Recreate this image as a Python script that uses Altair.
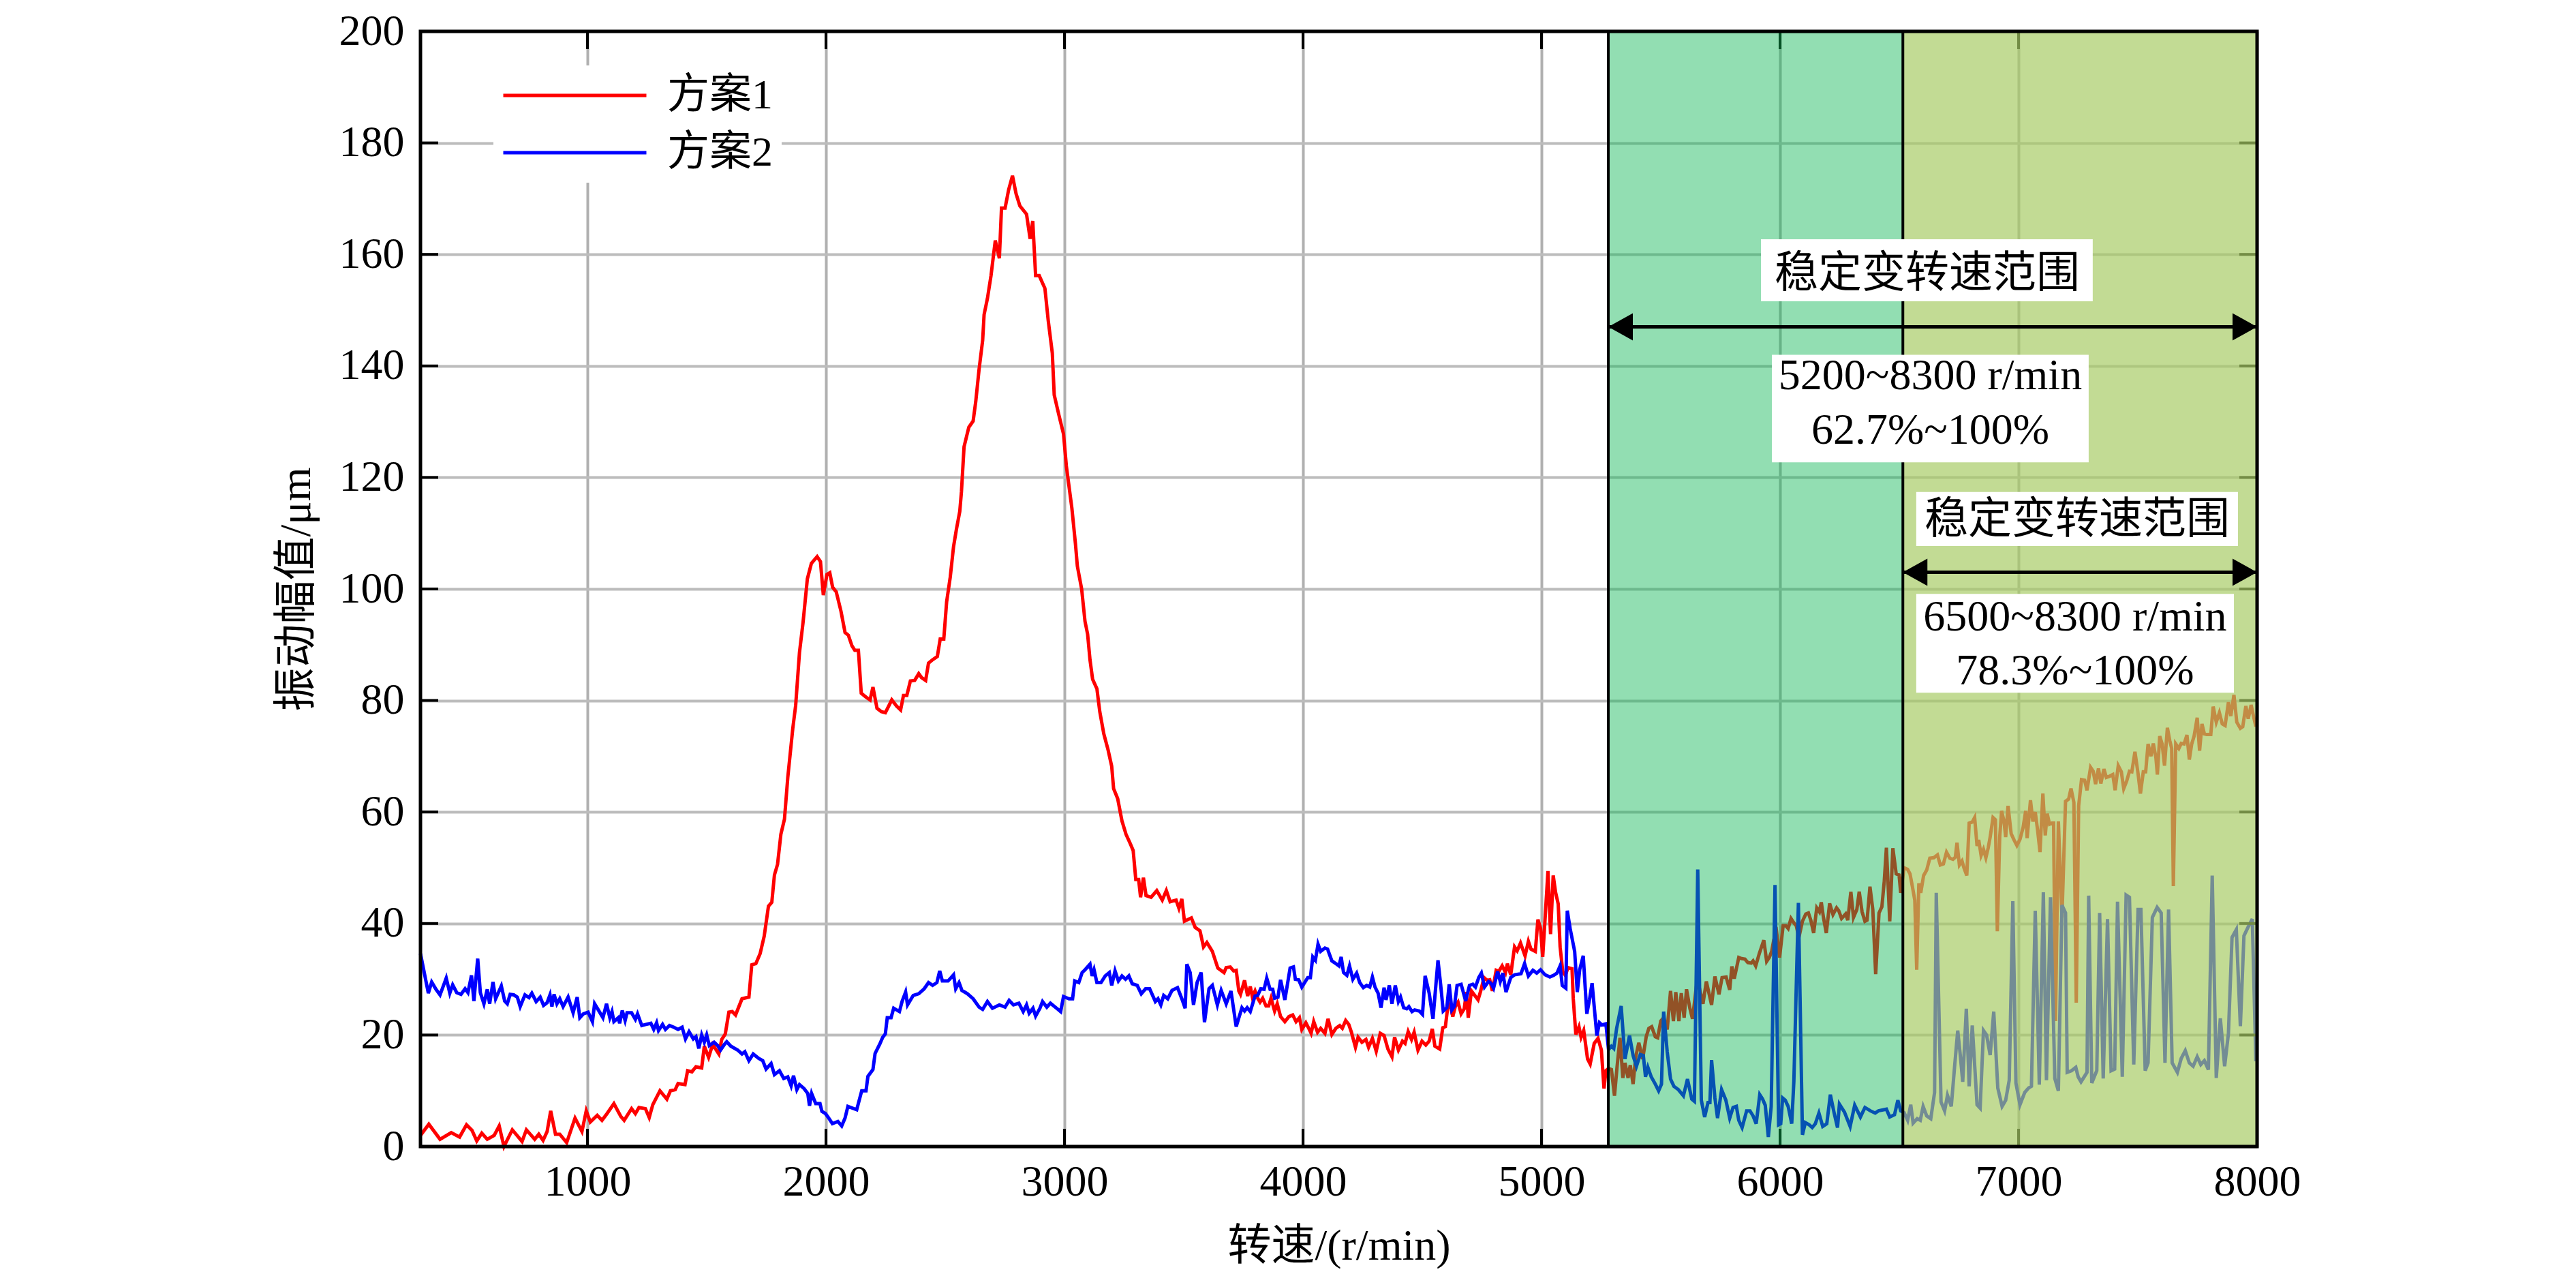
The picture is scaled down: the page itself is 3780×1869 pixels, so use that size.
import altair as alt
import pandas as pd

# ---------------- data ----------------
red_rpm = [300, 335, 382, 429, 464, 493, 516, 536, 557, 580, 609, 630, 650, 685, 726, 744, 779, 796, 814, 831,
           846, 866, 884, 913, 948, 977, 995, 1012, 1041, 1061, 1082, 1111, 1140, 1154, 1185, 1201, 1216, 1243, 1259, 1274,
           1304, 1333, 1348, 1368, 1380, 1409, 1420, 1438, 1455, 1479, 1490, 1508, 1525, 1551, 1563, 1578, 1593, 1607, 1621, 1648,
           1677, 1689, 1706, 1724, 1741, 1759, 1773, 1784, 1797, 1811, 1826, 1840, 1861, 1873, 1889, 1904, 1922, 1939,
           1963, 1977, 1989, 2004, 2016, 2028, 2043, 2063, 2080, 2094, 2109, 2121, 2136, 2148, 2168, 2185, 2197, 2214, 2232, 2249,
           2276, 2296, 2313, 2325, 2339, 2354, 2372, 2389, 2401, 2418, 2430, 2447, 2467, 2479, 2494, 2506, 2521, 2535, 2547, 2561,
           2568, 2579, 2599, 2617, 2628, 2642, 2657, 2663, 2677, 2692, 2710, 2727, 2736, 2751, 2766, 2782, 2797, 2813, 2841, 2856,
           2867, 2879, 2894, 2918, 2932, 2949, 2957, 2976, 2996, 3008, 3031, 3046, 3054, 3072, 3086, 3097, 3107, 3118, 3136, 3148,
           3165, 3183, 3198, 3206, 3223, 3241, 3258, 3276, 3288, 3299, 3311, 3319, 3331, 3342, 3363, 3387, 3410, 3427, 3443, 3468,
           3480, 3492, 3503, 3532, 3548, 3568, 3583, 3597, 3620, 3643, 3669,
           3678, 3695, 3709, 3720, 3731, 3738, 3755, 3768, 3779, 3788, 3799, 3810, 3820, 3831, 3845, 3856, 3866, 3881, 3892, 3906,
           3924, 3941, 3957, 3971, 3985, 3995, 4012, 4023, 4034, 4045, 4061, 4074, 4092, 4105, 4121, 4138, 4154, 4165, 4179, 4192,
           4203, 4220, 4231, 4247, 4264, 4275, 4291, 4307, 4324, 4340, 4356, 4373, 4384, 4400, 4417, 4428, 4441, 4455, 4466, 4482,
           4499, 4515, 4529, 4542, 4553, 4573, 4586, 4597, 4606, 4617, 4628, 4639, 4650, 4663, 4676, 4685, 4693, 4706, 4734, 4745,
           4759, 4772, 4783, 4794, 4810, 4821, 4835, 4849, 4857, 4871, 4887, 4898, 4912, 4931, 4945, 4956, 4974, 4985, 4996, 5005,
           5013, 5027, 5038, 5049, 5059, 5070, 5078, 5089, 5100, 5111, 5128, 5133, 5144, 5157, 5166, 5177, 5193, 5204, 5221, 5237,
           5251, 5262, 5270,
           5281, 5293, 5306, 5317, 5329, 5341, 5350, 5363, 5372, 5384, 5395, 5408, 5424, 5439, 5450, 5462, 5477, 5487, 5500, 5512,
           5527, 5541, 5553, 5563, 5576, 5586, 5598, 5608, 5622, 5633, 5649, 5660, 5677, 5691, 5713, 5727, 5744, 5757, 5774, 5789,
           5798, 5808, 5827, 5839, 5853, 5865, 5879, 5887, 5898, 5913, 5932, 5944, 5955, 5965, 5974, 5986, 5998, 6013, 6024, 6034,
           6046, 6060, 6068, 6079, 6094, 6108, 6119, 6129, 6141, 6154, 6165, 6173, 6182, 6194, 6208, 6222, 6237, 6246, 6258, 6275,
           6284, 6297, 6308, 6322, 6332, 6344, 6356, 6365, 6377, 6389, 6401, 6415, 6427, 6437, 6446, 6460, 6473, 6487, 6499, 6506,
           6520, 6535, 6545, 6555, 6565, 6573, 6582, 6590, 6602, 6615, 6628, 6645, 6660, 6672, 6685, 6698, 6712, 6725, 6735, 6742,
           6752, 6763, 6771, 6783, 6793, 6806, 6816, 6826, 6833, 6843, 6853, 6863, 6873, 6881, 6893, 6903, 6911, 6921, 6929, 6939,
           6946, 6956, 6969, 6981, 6993, 7006, 7019, 7030, 7036, 7050, 7060, 7070, 7080, 7090, 7102, 7112, 7120, 7130, 7140, 7147,
           7155, 7167, 7182, 7197, 7210, 7220, 7232, 7242, 7252, 7264, 7277, 7287, 7302, 7313, 7323, 7335, 7345, 7358, 7368, 7381,
           7395, 7405, 7418, 7431, 7441, 7453, 7465, 7475, 7488, 7501, 7511, 7523, 7533, 7543, 7555, 7565, 7576, 7582, 7592, 7602,
           7612, 7624, 7634, 7642, 7649, 7659, 7672, 7682, 7694, 7706, 7716, 7726, 7736, 7749, 7759, 7769, 7779, 7789, 7806, 7816,
           7829, 7842, 7854, 7866, 7880, 7890, 7903, 7915, 7930, 7940, 7953, 7963, 7975, 7985, 7995]
red_amp = [2.0, 4.0, 1.3, 2.5, 1.7, 3.9, 2.9, 1.0, 2.4, 1.3, 2.0, 3.7, 0.0, 3.0, 0.9, 3.0, 1.3, 2.2, 1.1, 2.7,
           6.4, 2.2, 2.2, 0.7, 5.1, 2.7, 6.4, 4.4, 5.6, 4.7, 5.9, 7.7, 5.4, 4.7, 6.8, 5.9, 7.0, 6.8, 5.2, 7.5,
           10.0, 8.5, 10.0, 10.2, 11.3, 11.1, 13.6, 13.4, 14.3, 14.1, 18.0, 16.0, 18.3, 16.6, 19.2, 20.2, 24.1, 24.2, 23.6, 26.5,
           26.8, 32.6, 32.8, 34.6, 37.7, 43.1, 43.8, 48.7, 50.6, 56.0, 58.7, 66.2, 75.0, 79.1, 88.6, 94.0, 101.8, 104.6,
           105.8, 104.9, 98.9, 102.6, 102.9, 100.3, 99.5, 96.0, 92.2, 91.7, 89.8, 89.0, 89.0, 81.3, 80.6, 80.1, 82.4, 78.6, 78.0, 77.8,
           80.1, 79.0, 78.3, 80.9, 80.9, 83.5, 83.6, 84.8, 84.1, 83.6, 86.7, 87.3, 87.9, 91.0, 91.0, 97.7, 102.1, 107.6, 110.7, 113.9,
           117.4, 125.5, 129.0, 130.1, 133.6, 139.4, 144.6, 149.2, 152.1, 156.2, 162.5, 159.3, 168.3, 168.3, 171.6, 174.1, 170.9, 168.7, 167.2, 162.8,
           166.0, 156.2, 156.2, 153.9, 148.1, 142.3, 134.8, 131.3, 127.8, 122.0, 114.5, 108.1, 104.1, 100.0, 94.2, 91.9, 87.3, 83.8, 82.1, 78.0,
           74.0, 71.1, 68.2, 64.2, 62.4, 58.4, 56.0, 54.3, 53.1, 47.9, 47.9, 44.7, 48.2, 45.0, 44.7, 45.9, 44.2, 45.9, 43.9, 44.2,
           42.7, 44.4, 40.4, 41.0, 39.3, 38.7, 35.8, 36.6, 35.0, 32.0, 31.2,
           32.1, 32.2, 31.5, 31.6, 27.9, 27.3, 29.8, 27.0, 28.7, 26.8, 27.9, 26.6, 25.9, 26.6, 25.2, 25.2, 26.6, 24.3, 25.6, 23.3,
           22.4, 23.3, 23.6, 22.4, 23.1, 21.0, 22.2, 21.3, 20.3, 22.4, 20.5, 21.2, 20.3, 22.9, 20.1, 21.2, 21.7, 21.2, 22.6, 21.9,
           20.5, 17.8, 19.6, 18.7, 19.2, 17.8, 19.4, 17.1, 20.3, 19.9, 17.5, 16.1, 19.6, 17.3, 18.9, 18.5, 20.6, 19.2, 20.5, 17.3,
           18.9, 18.2, 18.9, 21.1, 18.0, 17.5, 21.3, 21.5, 24.7, 25.6, 23.3, 25.2, 25.9, 23.8, 24.7, 27.7, 23.1, 27.9, 26.3, 27.9,
           30.3, 29.8, 29.9, 27.9, 31.6, 31.4, 32.4, 31.2, 32.8, 30.8, 35.8, 35.1, 36.5, 34.2, 36.8, 35.4, 35.0, 40.7, 39.1, 34.0,
           39.5, 49.4, 38.1, 48.6, 45.6, 43.5, 35.8, 31.4, 30.7, 32.1, 31.9, 26.6, 20.1, 21.5, 19.6, 20.8, 15.7, 14.8, 18.5, 19.4,
           17.3, 10.4, 13.6,
           14.0, 13.8, 9.1, 14.4, 19.5, 12.3, 15.0, 12.3, 14.6, 11.2, 16.1, 18.6, 15.7, 19.7, 21.2, 21.5, 19.7, 19.5, 22.5, 23.1,
           21.0, 27.9, 22.5, 27.7, 22.5, 27.5, 23.1, 28.2, 24.8, 22.9, 28.6, 28.8, 25.6, 29.6, 25.4, 30.5, 27.3, 30.3, 30.4, 28.1,
           32.3, 30.1, 33.9, 33.7, 33.6, 33.0, 32.9, 33.3, 32.4, 34.6, 37.0, 33.2, 33.9, 35.0, 37.1, 38.3, 33.9, 39.6, 39.6, 39.1,
           40.9, 40.0, 39.6, 37.5, 40.4, 41.7, 41.9, 40.6, 38.3, 42.8, 42.1, 43.8, 41.1, 38.3, 43.6, 41.6, 42.8, 42.3, 40.9, 41.7,
           40.6, 45.7, 41.1, 42.5, 45.7, 42.1, 40.4, 40.6, 46.6, 42.5, 30.9, 41.9, 43.0, 47.6, 53.6, 40.4, 53.5, 48.9, 48.7, 45.5,
           50.0, 49.7, 48.9, 46.6, 44.2, 31.7, 47.2, 45.5, 48.6, 49.6, 51.7, 51.8, 52.3, 50.5, 50.7, 52.8, 51.7, 51.5, 51.9, 54.5,
           50.5, 51.2, 50.0, 48.6, 58.0, 58.2, 59.0, 53.9, 55.0, 52.2, 53.3, 51.8, 53.6, 55.5, 59.0, 58.6, 38.6, 55.5, 60.2, 58.3,
           55.5, 61.1, 56.1, 55.0, 54.0, 55.1, 57.2, 60.2, 55.3, 62.1, 58.3, 60.0, 56.7, 52.8, 63.3, 55.8, 59.7, 57.8, 58.0, 58.0,
           22.5, 58.3, 41.1, 61.9, 62.3, 64.2, 61.7, 25.8, 61.1, 65.8, 65.7, 63.9, 68.0, 67.3, 65.0, 67.8, 65.1, 67.7, 66.2, 66.4,
           66.7, 63.9, 68.3, 67.2, 64.2, 65.5, 67.3, 67.2, 70.8, 66.9, 63.3, 67.2, 67.2, 72.2, 70.0, 72.3, 69.7, 66.7, 73.6, 72.2,
           68.3, 75.1, 72.8, 71.4, 46.7, 72.2, 71.4, 72.3, 72.2, 73.8, 69.4, 72.2, 73.6, 76.9, 71.0, 75.8, 74.0, 73.9, 73.9, 78.9,
           76.1, 77.8, 75.8, 75.5, 79.7, 77.2, 81.0, 76.1, 75.0, 75.3, 79.0, 76.7, 79.2, 77.2, 75.3]

blue_rpm = [300, 333, 347, 365, 382, 408, 423, 435, 452, 470, 487, 499, 514, 524, 540, 551, 566, 580, 590, 604,
            615, 639, 653, 664, 676, 691, 706, 718, 738, 755, 767, 785, 802, 816, 831, 843, 851, 860, 872, 884,
            898, 919, 940, 957, 968, 983, 1003, 1021, 1030, 1047, 1065, 1080, 1094, 1103, 1111, 1129, 1135, 1146, 1158, 1166,
            1185, 1201, 1210, 1228, 1245, 1266, 1278, 1290, 1298, 1315, 1327, 1344, 1362, 1380, 1397, 1411, 1426, 1444, 1455, 1467,
            1479, 1490, 1500, 1511, 1531, 1546, 1558, 1574, 1584, 1601, 1630, 1648, 1660, 1677, 1695, 1718, 1735, 1749, 1770, 1784,
            1805, 1823, 1840, 1854, 1864, 1878, 1889, 1908, 1924, 1931, 1940, 1957, 1975, 1983, 1998, 2010, 2027, 2050,
            2066, 2080, 2092, 2129, 2150, 2168, 2176, 2197, 2206, 2226, 2238, 2249, 2257, 2273, 2284, 2308, 2319, 2334, 2342, 2366,
            2389, 2412, 2430, 2447, 2465, 2477, 2488, 2512, 2535, 2544, 2558, 2570, 2593, 2617, 2642, 2657, 2677, 2698, 2727, 2751,
            2768, 2786, 2809, 2827, 2841, 2852, 2868, 2879, 2897, 2908, 2926, 2941, 2967, 2984, 2996, 3019, 3034, 3043, 3060, 3074,
            3086, 3107, 3116, 3124, 3136, 3153, 3171, 3188, 3198, 3212, 3226, 3241, 3256, 3270, 3284, 3305, 3322, 3340, 3357, 3381,
            3392, 3404, 3416, 3433, 3451, 3474, 3492, 3506, 3513, 3527, 3541, 3556, 3573, 3587, 3606, 3620, 3641, 3657,
            3678, 3698, 3720, 3744, 3755, 3766, 3779, 3799, 3810, 3823, 3837, 3848, 3862, 3873, 3881, 3895, 3906, 3924, 3946, 3960,
            3968, 3982, 3995, 4020, 4031, 4041, 4052, 4063, 4074, 4092, 4103, 4121, 4138, 4151, 4160, 4170, 4184, 4195, 4209, 4225,
            4238, 4253, 4267, 4280, 4291, 4302, 4315, 4327, 4340, 4348, 4362, 4373, 4387, 4400, 4409, 4422, 4435, 4444, 4457, 4468,
            4488, 4501, 4512, 4529, 4545, 4566, 4577, 4588, 4603, 4613, 4624, 4635, 4646, 4663, 4682, 4698, 4712, 4723, 4737, 4748,
            4761, 4778, 4788, 4799, 4816, 4827, 4838, 4851, 4871, 4887, 4914, 4929, 4945, 4964, 4980, 4996, 5015, 5035, 5051, 5065,
            5078, 5087, 5102, 5108, 5120, 5139, 5150, 5160, 5175, 5190, 5201, 5212, 5232, 5243, 5253, 5270,
            5281, 5293, 5303, 5315, 5334, 5350, 5369, 5384, 5398, 5414, 5427, 5436, 5446, 5460, 5477, 5491, 5503, 5512, 5527, 5541,
            5555, 5574, 5595, 5612, 5630, 5641, 5655, 5670, 5684, 5698, 5706, 5713, 5727, 5738, 5755, 5773, 5789, 5803, 5817, 5827,
            5841, 5860, 5874, 5887, 5900, 5915, 5927, 5938, 5951, 5963, 5979, 5994, 6003, 6011, 6022, 6034, 6049, 6058, 6077, 6094,
            6106, 6122, 6135, 6148, 6163, 6179, 6196, 6211, 6227, 6241, 6249, 6270, 6294, 6313, 6337, 6356, 6379, 6399, 6413, 6446,
            6460, 6480, 6494, 6506,
            6520, 6535, 6548, 6558, 6575, 6588, 6600, 6615, 6632, 6648, 6655, 6675, 6690, 6702, 6718, 6732, 6745, 6755, 6766, 6781,
            6793, 6806, 6826, 6839, 6853, 6866, 6881, 6896, 6913, 6931, 6946, 6961, 6976, 6989, 7006, 7026, 7042, 7054, 7070, 7087,
            7104, 7117, 7134, 7152, 7167, 7182, 7197, 7204, 7222, 7240, 7250, 7262, 7287, 7294, 7307, 7328, 7340, 7355, 7373, 7388,
            7403, 7415, 7435, 7451, 7465, 7483, 7501, 7513, 7531, 7543, 7561, 7581, 7598, 7614, 7629, 7644, 7666, 7682, 7699, 7716,
            7732, 7749, 7764, 7779, 7796, 7812, 7829, 7846, 7864, 7880, 7895, 7913, 7930, 7945, 7963, 7980, 7995]
blue_amp = [34.6, 27.5, 29.5, 28.2, 27.2, 30.2, 27.5, 29.0, 27.6, 27.3, 28.3, 27.6, 30.7, 26.1, 33.7, 27.6, 25.6, 28.2, 25.6, 29.5,
            26.5, 28.8, 26.1, 25.6, 27.3, 27.2, 26.8, 25.1, 27.2, 26.7, 27.5, 26.0, 26.8, 25.3, 25.8, 27.2, 25.1, 27.3, 25.6, 26.5,
            25.1, 26.8, 24.0, 26.8, 23.1, 23.8, 24.1, 22.4, 25.6, 24.4, 23.1, 25.6, 23.1, 24.2, 22.4, 23.1, 22.1, 24.4, 22.6, 24.0,
            24.0, 22.8, 23.8, 21.7, 21.9, 22.1, 21.0, 22.2, 20.8, 21.9, 21.0, 21.7, 21.4, 21.0, 21.4, 19.3, 20.6, 19.3, 19.7, 17.6,
            20.0, 18.7, 20.0, 18.1, 18.7, 18.1, 17.3, 18.3, 18.8, 18.0, 17.3, 16.6, 17.0, 15.4, 16.6, 15.8, 15.4, 13.9, 14.9, 12.9,
            13.6, 12.2, 12.5, 10.9, 12.7, 10.2, 11.1, 10.4, 9.5, 7.3, 9.5, 7.7, 7.7, 6.3, 5.9, 5.2, 4.1, 4.5,
            3.7, 5.1, 7.2, 6.6, 10.0, 10.0, 12.6, 13.8, 16.7, 18.4, 19.6, 20.2, 23.1, 23.1, 24.8, 24.2, 26.0, 27.7, 25.4, 27.1,
            27.4, 28.3, 29.4, 28.9, 29.4, 31.5, 29.7, 29.7, 30.8, 28.3, 29.4, 28.0, 27.4, 26.5, 25.0, 24.6, 26.0, 24.8, 25.4, 25.0,
            26.2, 25.4, 25.7, 24.2, 25.4, 23.9, 24.8, 23.4, 24.8, 26.0, 25.0, 25.7, 24.8, 24.2, 26.9, 26.5, 26.5, 29.7, 29.4, 31.2,
            31.7, 32.7, 30.6, 31.7, 29.4, 29.4, 30.6, 31.2, 28.9, 31.5, 29.7, 30.6, 30.0, 30.6, 29.2, 28.9, 27.4, 28.3, 28.3, 26.0,
            26.5, 25.4, 27.1, 26.5, 28.0, 28.5, 26.5, 24.8, 32.7, 31.2, 25.4, 29.4, 31.2, 22.3, 28.3, 28.9, 25.4, 28.0,
            25.6, 27.9, 21.5, 24.9, 24.3, 24.9, 24.2, 27.0, 27.1, 28.3, 28.2, 30.2, 28.2, 28.2, 26.6, 26.8, 29.9, 26.3, 32.0, 32.2,
            30.0, 29.9, 28.6, 30.3, 30.3, 34.0, 33.4, 36.3, 35.0, 35.6, 35.4, 33.3, 32.8, 32.4, 34.0, 31.2, 30.7, 32.4, 30.0, 31.1,
            29.4, 28.5, 28.9, 28.6, 30.4, 28.6, 27.5, 24.9, 28.5, 26.3, 28.9, 25.6, 28.9, 26.0, 26.8, 24.9, 24.7, 25.1, 24.2, 24.5,
            24.3, 23.7, 30.6, 27.5, 22.9, 33.4, 29.1, 24.3, 24.9, 29.1, 24.5, 25.2, 28.9, 29.1, 26.1, 28.9, 29.1, 28.6, 30.3, 31.1,
            28.6, 29.6, 29.3, 28.4, 31.4, 29.6, 31.1, 27.7, 30.3, 30.8, 31.0, 32.8, 30.6, 31.6, 31.1, 31.7, 30.8, 30.4, 30.7, 31.1,
            32.4, 28.9, 28.4, 42.3, 39.1, 35.0, 27.7, 31.7, 34.2, 23.8, 26.3, 29.3, 19.9, 22.2, 21.8, 22.0,
            17.4, 18.0, 17.6, 21.2, 25.2, 15.7, 19.9, 16.3, 14.4, 16.5, 16.3, 12.5, 14.2, 12.5, 11.2, 10.0, 11.2, 24.2, 17.0, 12.1,
            10.8, 10.2, 9.1, 12.1, 8.5, 8.1, 49.7, 8.3, 5.3, 7.9, 7.9, 15.5, 8.7, 5.1, 10.2, 8.3, 5.1, 7.0, 7.2, 4.7,
            3.4, 6.4, 6.4, 5.5, 4.1, 9.3, 8.5, 7.4, 1.7, 7.2, 46.9, 3.9, 4.1, 8.7, 8.3, 7.2, 4.1, 11.7, 43.7, 2.1,
            4.3, 3.9, 3.4, 4.1, 6.0, 3.6, 4.1, 9.3, 6.0, 3.4, 7.6, 6.2, 3.6, 7.4, 5.3, 7.0, 6.4, 6.0, 6.4, 6.7,
            5.3, 5.7, 8.3, 6.4,
            6.1, 4.7, 7.5, 4.2, 5.0, 4.7, 7.2, 5.5, 5.0, 9.7, 45.5, 8.0, 6.4, 9.2, 7.2, 14.4, 20.8, 16.7, 11.6, 24.7,
            10.8, 21.7, 7.5, 6.9, 20.8, 20.0, 16.4, 24.2, 10.5, 7.2, 8.3, 11.9, 44.0, 11.4, 7.5, 9.7, 10.5, 10.8, 42.3, 11.1,
            45.6, 11.9, 44.7, 12.2, 10.0, 43.3, 41.9, 13.3, 13.6, 14.2, 12.5, 11.6, 13.3, 45.0, 11.4, 13.6, 41.9, 12.2, 40.8, 13.6,
            13.9, 43.9, 12.5, 45.1, 44.7, 14.7, 42.5, 42.5, 13.6, 15.0, 41.1, 42.9, 41.9, 15.0, 42.5, 15.0, 13.3, 15.8, 17.2, 15.0,
            14.4, 16.1, 14.7, 15.4, 13.8, 48.6, 12.3, 23.0, 14.4, 20.3, 37.5, 38.9, 21.6, 37.8, 39.4, 40.8, 15.3]

series_names = ["方案1", "方案2"]
series_colors = ["#FF0000", "#0000FF"]

x_ticks = [1000, 2000, 3000, 4000, 5000, 6000, 7000, 8000]
y_ticks = [0, 20, 40, 60, 80, 100, 120, 140, 160, 180, 200]

zone_start = [5280, 6515]
zone_end = [6515, 8000]
zone_fill = ["#0DB654", "#A7CB64"]
zone_alpha = [0.45, 0.69]

box_x = [5920, 5966, 6571, 6571]
box_x2 = [7311, 7294, 7920, 7903]
box_y = [162.7, 142.0, 117.4, 99.1]
box_y2 = [151.6, 122.7, 107.7, 81.4]

ann_text = ["稳定变转速范围", "5200~8300 r/min", "62.7%~100%", "稳定变转速范围", "6500~8300 r/min", "78.3%~100%"]
ann_x = [6617, 6630, 6630, 7246, 7237, 7237]
ann_y = [156.5, 138.1, 128.4, 112.3, 94.9, 85.2]

arrow_start = [5280, 6515]
arrow_end = [8000, 8000]
arrow_y = [147, 103]

# ---------------- chart ----------------
W, H = 2695, 1636
FONT = "Liberation Serif, Noto Sans CJK SC"
TICK = 26

xs = alt.Scale(domain=[300, 8000], nice=False, zero=False)
ys = alt.Scale(domain=[0, 200], nice=False)

lines_df = pd.concat([
    pd.DataFrame({"rpm": red_rpm, "amp": red_amp, "series": series_names[0]}),
    pd.DataFrame({"rpm": blue_rpm, "amp": blue_amp, "series": series_names[1]}),
], ignore_index=True)

x_axis = alt.Axis(
    values=x_ticks, format="d", title="转速/(r/min)", grid=True, gridColor="#b0b0b0", gridWidth=4,
    ticks=False, domain=False, labelFont=FONT, labelFontSize=64, labelColor="black", labelPadding=20,
    labelFlush=False, titleFont=FONT, titleFontSize=64, titleFontWeight="normal", titleColor="black",
    titlePadding=30)
y_axis = alt.Axis(
    values=y_ticks, format="d", title="振动幅值/μm", grid=True, gridColor="#bcbcbc", gridWidth=4,
    ticks=False, domain=False, labelFont=FONT, labelFontSize=64, labelColor="black", labelPadding=24,
    labelFlush=False, titleFont=FONT, titleFontSize=64, titleFontWeight="normal", titleColor="black",
    titlePadding=30)

xticks_df = pd.DataFrame({"rpm": x_ticks})
yticks_df = pd.DataFrame({"amp": y_ticks})

lines = alt.Chart(lines_df).mark_line(strokeWidth=5).encode(
    x=alt.X("rpm:Q", scale=xs, axis=x_axis),
    y=alt.Y("amp:Q", scale=ys, axis=y_axis),
    color=alt.Color("series:N", scale=alt.Scale(domain=series_names, range=series_colors), legend=alt.Legend(
        title=None, orient="none", legendX=107, legendY=50, direction="vertical", symbolType="stroke",
        symbolSize=44100, symbolStrokeWidth=5, clipHeight=64, rowPadding=20, labelFont=FONT,
        labelFontSize=62, labelColor="black", labelOffset=28, labelLimit=500, padding=12, fillColor="white")),
    order=alt.Order("rpm:Q"),
)

tick_b = alt.Chart(xticks_df).mark_rule(color="black", strokeWidth=4).encode(
    x=alt.X("rpm:Q", scale=xs), y=alt.value(H), y2=alt.value(H - TICK))
tick_t = alt.Chart(xticks_df).mark_rule(color="black", strokeWidth=4).encode(
    x=alt.X("rpm:Q", scale=xs), y=alt.value(0), y2=alt.value(TICK))
tick_l = alt.Chart(yticks_df).mark_rule(color="black", strokeWidth=4).encode(
    y=alt.Y("amp:Q", scale=ys), x=alt.value(0), x2=alt.value(TICK))
tick_r = alt.Chart(yticks_df).mark_rule(color="black", strokeWidth=4).encode(
    y=alt.Y("amp:Q", scale=ys), x=alt.value(W - TICK), x2=alt.value(W))

zones = []
for s, e, c, a in zip(zone_start, zone_end, zone_fill, zone_alpha):
    zdf = pd.DataFrame({"rpm": [s], "rpm2": [e]})
    zones.append(alt.Chart(zdf).mark_rect(color=c, opacity=a).encode(
        x=alt.X("rpm:Q", scale=xs), x2="rpm2:Q", y=alt.value(0), y2=alt.value(H)))

bound_df = pd.DataFrame({"rpm": zone_start})
bounds = alt.Chart(bound_df).mark_rule(color="black", strokeWidth=4).encode(
    x=alt.X("rpm:Q", scale=xs), y=alt.value(0), y2=alt.value(H))

box_df = pd.DataFrame({"rpm": box_x, "rpm2": box_x2, "amp": box_y, "amp2": box_y2})
boxes = alt.Chart(box_df).mark_rect(color="white", opacity=1).encode(
    x=alt.X("rpm:Q", scale=xs), x2="rpm2:Q",
    y=alt.Y("amp:Q", scale=ys), y2="amp2:Q")

ann_df = pd.DataFrame({"rpm": ann_x, "amp": ann_y, "t": ann_text})
texts = alt.Chart(ann_df).mark_text(font=FONT, fontSize=64, color="black", align="center",
                                     baseline="middle").encode(
    x=alt.X("rpm:Q", scale=xs), y=alt.Y("amp:Q", scale=ys), text="t:N")

arr_df = pd.DataFrame({"rpm": arrow_start, "rpm2": arrow_end, "amp": arrow_y})
arr_line = alt.Chart(arr_df).mark_rule(color="black", strokeWidth=5).encode(
    x=alt.X("rpm:Q", scale=xs), x2="rpm2:Q", y=alt.Y("amp:Q", scale=ys))
head_l = alt.Chart(arr_df).mark_point(shape="M0,0L1.8,-1L1.8,1Z", filled=True, color="black",
                                      opacity=1, size=1600).encode(
    x=alt.X("rpm:Q", scale=xs), y=alt.Y("amp:Q", scale=ys))
head_r = alt.Chart(arr_df).mark_point(shape="M0,0L-1.8,-1L-1.8,1Z", filled=True, color="black",
                                      opacity=1, size=1600).encode(
    x=alt.X("rpm2:Q", scale=xs), y=alt.Y("amp:Q", scale=ys))

frame = alt.Chart(pd.DataFrame({"k": [0]})).mark_rect(fill="white", fillOpacity=0, stroke="black",
                                                      strokeWidth=5).encode(
    x=alt.value(0), x2=alt.value(W), y=alt.value(0), y2=alt.value(H))

chart = alt.layer(
    lines, tick_b, tick_t, tick_l, tick_r, *zones, bounds, boxes, texts, arr_line, head_l, head_r, frame
).properties(
    width=W, height=H,
    autosize=alt.AutoSizeParams(type="none"),
    padding={"left": 609, "top": 38, "right": 460, "bottom": 179},
    background="white",
).configure_view(stroke=None)

chart.save("out.html", embed_options={"renderer": "svg", "actions": False})
